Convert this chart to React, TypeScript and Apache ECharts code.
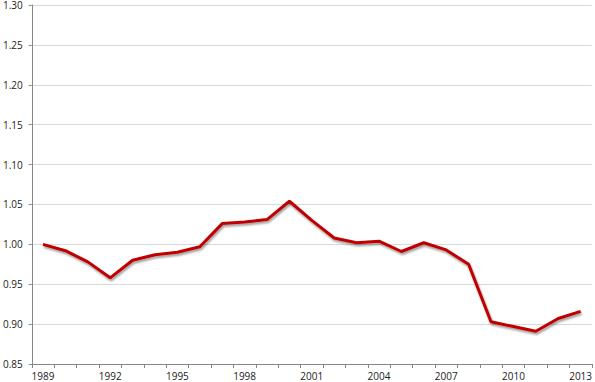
import React, { useEffect, useRef } from "react";
import * as echarts from "echarts";

const years = [
  "1989", "1990", "1991", "1992", "1993", "1994", "1995", "1996", "1997", "1998",
  "1999", "2000", "2001", "2002", "2003", "2004", "2005", "2006", "2007", "2008",
  "2009", "2010", "2011", "2012", "2013",
];
const values = [
  1.0, 0.992, 0.978, 0.958, 0.98, 0.987, 0.99, 0.997, 1.026, 1.028,
  1.031, 1.054, 1.03, 1.008, 1.002, 1.004, 0.991, 1.002, 0.993, 0.975,
  0.903, 0.897, 0.891, 0.907, 0.916,
];
const yMin = 0.85;
const yMax = 1.3;
const yStep = 0.05;

export default function App() {
  const ref = useRef<HTMLDivElement>(null);
  useEffect(() => {
    if (!ref.current) return;
    const chart = echarts.init(ref.current, null, { renderer: "svg" });
    chart.setOption({
      animation: false,
      backgroundColor: "#ffffff",
      grid: { left: 30, right: 2, top: 3, bottom: 18, containLabel: false },
      xAxis: {
        type: "category",
        data: years,
        boundaryGap: true,
        axisLine: { lineStyle: { color: "#868686", width: 1 } },
        axisTick: { show: true, interval: 0, length: 4, lineStyle: { color: "#868686" } },
        axisLabel: {
          interval: 2,
          color: "#1a1a1a",
          fontFamily: "Open Sans",
          fontSize: 10,
          margin: 7,
        },
        splitLine: { show: false },
      },
      yAxis: {
        type: "value",
        min: yMin,
        max: yMax,
        interval: yStep,
        axisLine: { show: true, lineStyle: { color: "#868686", width: 1 } },
        axisTick: { show: true, length: 3, lineStyle: { color: "#868686" } },
        axisLabel: {
          color: "#1a1a1a",
          fontFamily: "Open Sans",
          fontSize: 10,
          margin: 9,
          formatter: (v: number) => v.toFixed(2),
        },
        splitLine: { show: true, lineStyle: { color: "#d9d9d9", width: 1 } },
      },
      series: [
        {
          type: "line",
          data: values,
          symbol: "none",
          lineStyle: {
            color: "#c00000",
            width: 3,
            shadowColor: "rgba(0,0,0,0.4)",
            shadowBlur: 2,
            shadowOffsetX: 1,
            shadowOffsetY: 2,
          },
        },
      ],
    });
    return () => chart.dispose();
  }, []);
  return (
    <div
      ref={ref}
      style={{ position: "fixed", left: 0, top: 0, width: 595, height: 382 }}
    />
  );
}
